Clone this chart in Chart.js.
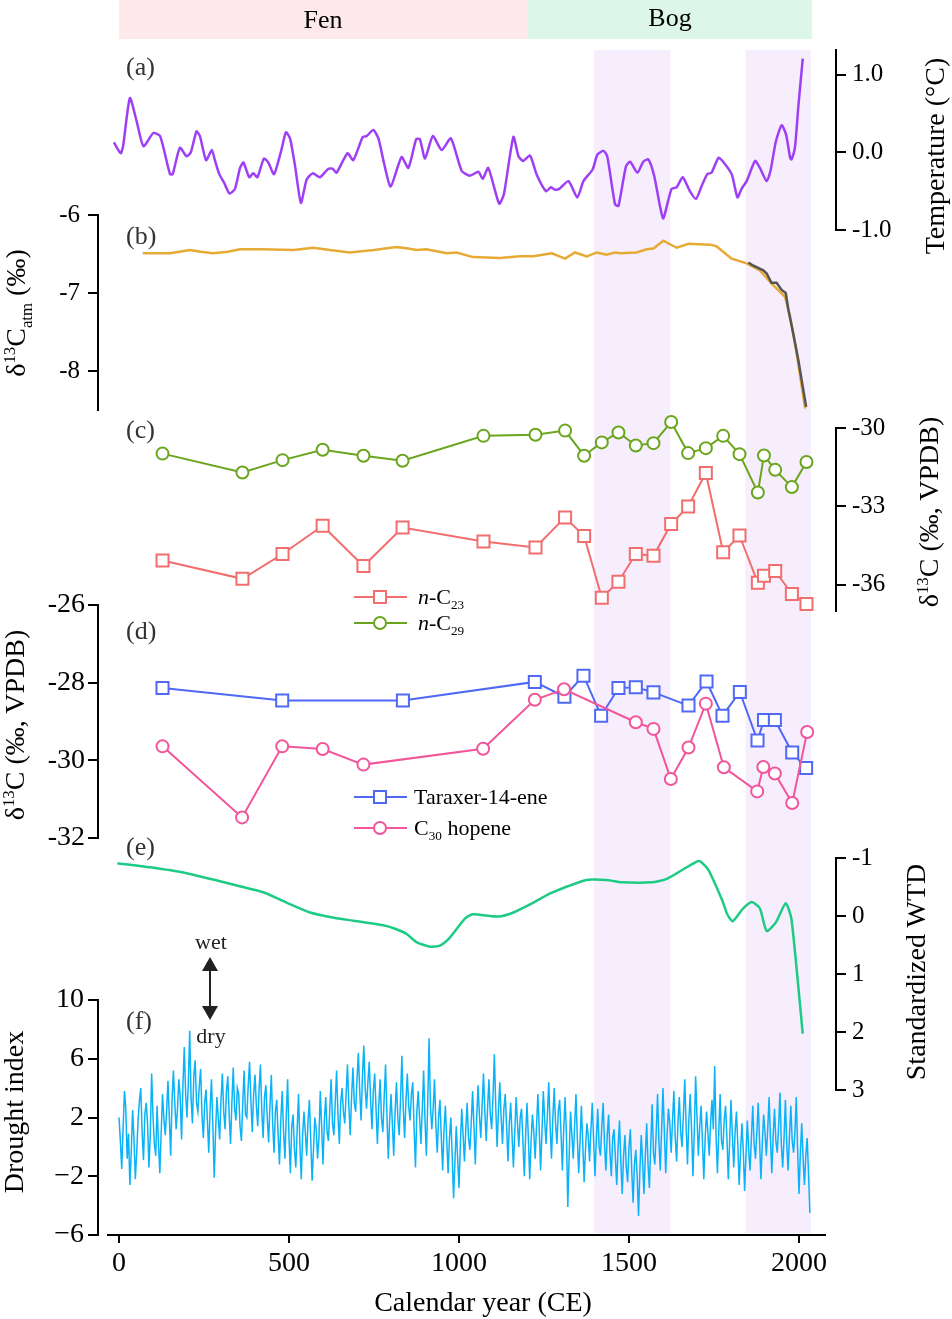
<!DOCTYPE html>
<html>
<head>
<meta charset="utf-8">
<script src="https://cdn.jsdelivr.net/npm/chart.js@4.4.1/dist/chart.umd.min.js"></script>
<style>
  body { margin: 0; background: #fff; }
  #fig { position: relative; width: 952px; height: 1319px; overflow: hidden;
         font-family: "Liberation Serif", "DejaVu Serif", serif; color: #000; }
  #fig canvas { position: absolute; left: 0; z-index: 0; }
  .lbl { position: absolute; z-index: 2; white-space: nowrap; line-height: 1; transform: translate(-50%, -50%); }
  .rot { position: absolute; z-index: 2; white-space: nowrap; line-height: 1; font-size: 28px;
         transform: translate(-50%, -50%) rotate(-90deg); }
  .pl { position: absolute; z-index: 2; left: 126px; font-size: 26px; color: #333; line-height: 1; transform: translateY(-50%); }
  .leg { position: absolute; z-index: 2; white-space: nowrap; line-height: 1; font-size: 22px; transform: translateY(-50%); }
  sub, sup { font-size: 60%; line-height: 0; }
  #overlay { position: absolute; left: 0; top: 0; z-index: 1; }
</style>
</head>
<body>
<div id="fig">
  <div class="lbl" style="left:323px;top:20px;font-size:26px;">Fen</div>
  <div class="lbl" style="left:670px;top:18px;font-size:26px;">Bog</div>

  <div class="pl" style="top:67px;">(a)</div>
  <div class="pl" style="top:236px;">(b)</div>
  <div class="pl" style="top:430px;">(c)</div>
  <div class="pl" style="top:631px;">(d)</div>
  <div class="pl" style="top:847px;">(e)</div>
  <div class="pl" style="top:1021px;">(f)</div>

  <div class="rot" style="left:935px;top:156px;">Temperature (°C)</div>
  <div class="rot" style="left:16px;top:313px;">δ<sup>13</sup>C<sub>atm</sub> (‰)</div>
  <div class="rot" style="left:929px;top:512px;">δ<sup>13</sup>C (‰, VPDB)</div>
  <div class="rot" style="left:15px;top:725px;">δ<sup>13</sup>C (‰, VPDB)</div>
  <div class="rot" style="left:916px;top:972px;">Standardized WTD</div>
  <div class="rot" style="left:14px;top:1112px;">Drought index</div>
  <div class="lbl" style="left:483px;top:1302px;font-size:28px;">Calendar year (CE)</div>

  <div class="leg" style="left:418px;top:597px;"><i>n</i>-C<sub>23</sub></div>
  <div class="leg" style="left:418px;top:623px;"><i>n</i>-C<sub>29</sub></div>
  <div class="leg" style="left:414px;top:797px;">Taraxer-14-ene</div>
  <div class="leg" style="left:414px;top:828px;">C<sub>30</sub> hopene</div>

  <div class="lbl" style="left:211px;top:942px;font-size:22px;color:#222;">wet</div>
  <div class="lbl" style="left:211px;top:1036px;font-size:22px;color:#222;">dry</div>
</div>

<script>
// ---- data ----
var zoneNames = ['Fen', 'Bog'];
var zoneStart = [0, 1203];
var zoneEnd = [1203, 2038];
var shadeStart = [1396, 1842];
var shadeEnd = [1622, 2035];

// (a) temperature anomaly
var tempYears = [-15, 5, 12, 32, 52, 72, 101, 121, 150, 158, 179, 199, 211, 228, 238, 256, 273, 282, 295, 309,
  325, 341, 356, 366, 383, 395, 407, 426, 439, 456, 478, 491, 503, 518, 535, 552, 570, 591, 616, 628,
  640, 672, 689, 717, 728, 748, 763, 779, 799, 831, 851, 874, 885, 900, 923, 949, 976, 1008, 1032, 1057,
  1070, 1086, 1118, 1132, 1160, 1175, 1189, 1209, 1228, 1256, 1270, 1282, 1295, 1322, 1348, 1366, 1393, 1407, 1425, 1436,
  1459, 1469, 1491, 1503, 1525, 1542, 1557, 1574, 1591, 1601, 1625, 1640, 1658, 1679, 1697, 1714, 1730, 1743, 1763, 1775,
  1802, 1819, 1831, 1846, 1871, 1885, 1905, 1916, 1932, 1949, 1962, 1974, 1978, 1988, 1998, 2011];
var tempValues = [0.13, -0.01, 0.08, 0.70, 0.40, 0.08, 0.25, 0.21, -0.28, -0.28, 0.06, -0.05, 0.0, 0.27, 0.21, -0.10, 0.03, -0.10, -0.28, -0.39,
  -0.53, -0.47, -0.20, -0.13, -0.32, -0.27, -0.32, -0.08, -0.13, -0.28, 0.04, 0.26, 0.18, -0.18, -0.65, -0.35, -0.27, -0.32, -0.21, -0.21,
  -0.26, -0.01, -0.10, 0.20, 0.21, 0.29, 0.18, -0.13, -0.44, -0.06, -0.20, 0.17, 0.17, -0.08, 0.21, 0.03, 0.18, -0.24, -0.30, -0.25,
  -0.34, -0.20, -0.66, -0.54, 0.20, -0.05, -0.11, -0.04, -0.28, -0.50, -0.45, -0.48, -0.47, -0.37, -0.58, -0.37, -0.22, -0.03, 0.02, -0.05,
  -0.67, -0.69, -0.18, -0.12, -0.26, -0.12, -0.09, -0.30, -0.69, -0.85, -0.47, -0.45, -0.32, -0.50, -0.60, -0.43, -0.28, -0.26, -0.07, -0.11,
  -0.28, -0.58, -0.47, -0.37, -0.11, -0.20, -0.37, -0.24, 0.14, 0.35, 0.23, -0.07, -0.09, 0.06, 0.59, 1.21];
var tempTicks = [-1, 0, 1];

// (b) atmospheric d13C
var atmYears = [70, 150, 209, 240, 277, 320, 356, 420, 513, 571, 620, 679, 750, 816, 850, 875, 904, 964, 993, 1041,
  1121, 1179, 1219, 1273, 1312, 1341, 1376, 1405, 1434, 1459, 1474, 1522, 1552, 1572, 1601, 1640, 1675, 1738, 1757, 1802,
  1846, 1885, 1924, 1959, 1974, 1993, 2018];
var atmValues = [-6.49, -6.49, -6.45, -6.47, -6.49, -6.47, -6.44, -6.44, -6.45, -6.42, -6.45, -6.48, -6.45, -6.41, -6.43, -6.45, -6.44, -6.49, -6.48, -6.54,
  -6.55, -6.53, -6.53, -6.49, -6.56, -6.48, -6.53, -6.48, -6.51, -6.48, -6.49, -6.48, -6.44, -6.43, -6.33, -6.42, -6.37, -6.38, -6.40, -6.56,
  -6.62, -6.71, -6.90, -7.05, -7.30, -7.77, -8.48];
var atmDirectYears = [1851, 1866, 1895, 1905, 1919, 1934, 1949, 1961, 1969, 1983, 1998, 2008, 2021];
var atmDirectValues = [-6.61, -6.65, -6.71, -6.75, -6.87, -6.87, -6.96, -7.00, -7.22, -7.52, -7.86, -8.12, -8.46];
var atmTicks = [-8, -7, -6];

// (c) n-alkanes
var alkYears = [128, 363, 481, 599, 719, 834, 1072, 1225, 1312, 1368, 1420, 1469, 1520, 1572, 1624, 1674, 1726, 1777, 1825, 1879,
  1897, 1930, 1979, 2022];
var c23Values = [-35.07, -35.77, -34.82, -33.74, -35.28, -33.81, -34.34, -34.57, -33.42, -34.13, -36.49, -35.88, -34.82, -34.89, -33.67, -33.00, -31.72, -34.75, -34.11, -35.92,
  -35.65, -35.47, -36.35, -36.73];
var c29Values = [-30.98, -31.70, -31.23, -30.83, -31.06, -31.25, -30.30, -30.26, -30.10, -31.06, -30.55, -30.17, -30.67, -30.58, -29.77, -30.96, -30.77, -30.30, -31.00, -32.47,
  -31.05, -31.60, -32.26, -31.30];
var alkTicks = [-36, -33, -30];

// (d) triterpenoids
var taraxYears = [128, 480, 835, 1223, 1310, 1366, 1418, 1469, 1520, 1572, 1675, 1728, 1775, 1826, 1878, 1897, 1929, 1980, 2021];
var taraxValues = [-28.14, -28.46, -28.46, -27.98, -28.36, -27.82, -28.85, -28.14, -28.12, -28.25, -28.59, -27.97, -28.85, -28.24, -29.49, -28.96, -28.96, -29.80, -30.20];
var hopYears = [128, 362, 480, 599, 719, 1071, 1223, 1309, 1520, 1572, 1623, 1675, 1726, 1779, 1877, 1895, 1929, 1980, 2024];
var hopValues = [-29.64, -31.47, -29.64, -29.71, -30.11, -29.70, -28.44, -28.17, -29.02, -29.19, -30.48, -29.67, -28.54, -30.18, -30.80, -30.17, -30.34, -31.10, -29.27];
var isoTicks = [-32, -30, -28, -26];

// (e) standardized water table depth
var wtdYears = [-5, 91, 189, 317, 424, 493, 562, 640, 689, 777, 812, 846, 875, 915, 944, 969, 1018, 1040, 1116, 1160,
  1219, 1268, 1361, 1390, 1434, 1479, 1567, 1611, 1670, 1706, 1733, 1775, 1789, 1805, 1834, 1861, 1885, 1905, 1932, 1961,
  1978, 2011];
var wtdValues = [-0.91, -0.84, -0.75, -0.57, -0.41, -0.23, -0.06, 0.04, 0.08, 0.16, 0.22, 0.31, 0.45, 0.53, 0.51, 0.40, 0.04, -0.03, 0.01, -0.06,
  -0.23, -0.39, -0.60, -0.63, -0.62, -0.58, -0.58, -0.64, -0.84, -0.95, -0.80, -0.26, -0.03, 0.09, -0.12, -0.24, -0.13, 0.26, 0.11, -0.22,
  0.06, 2.03];
var wtdTicks = [-1, 0, 1, 2, 3];

// (f) drought index, one value every 4 years from year 0 (one row = 40 years)
var droughtStart = 0;
var droughtStep = 4;
var droughtValues = [
  2.0, 0.4, -1.5, 1.2, 3.8, 2.6, -0.8, 0.9, -2.6, -0.4,
  2.5, 0.6, -2.2, -0.4, 1.8, 3.1, 4.0, 1.0, -0.9, 2.2,
  3.0, 1.6, -1.4, 0.8, 5.0, 2.1, 0.2, -0.6, 2.8, 0.3,
  -1.8, 0.9, 3.6, 1.9, 0.8, 2.4, 4.5, 2.0, -0.6, 3.2,
  5.2, 3.0, 1.2, 2.6, 4.6, 3.4, 0.5, 4.2, 6.8, 3.6,
  2.0, 4.4, 7.9, 3.3, 1.6, 4.8, 5.9, 3.0, 2.4, 4.1,
  5.3, 2.2, 0.6, 3.0, 3.9, 1.8, -0.4, 2.6, 4.6, 1.5,
  -2.1, 1.0, 3.4, 2.0, 0.5, 3.2, 5.0, 2.4, 1.2, 3.8,
  4.8, 2.2, 0.2, 3.0, 5.4, 2.6, 1.8, 4.0, 3.6, 1.4,
  0.4, 3.0, 5.2, 2.2, 2.0, 4.2, 5.8, 3.1, 1.0, 3.6,
  4.9, 2.8, 1.4, 3.9, 5.6, 2.4, 0.6, 3.4, 4.2, 2.0,
  0.3, 2.8, 4.9, 1.6, -0.4, 2.4, 3.2, 0.8, -1.2, 1.9,
  3.8, 1.0, -0.8, 2.2, 4.6, 0.6, -1.8, 1.4, 2.2, -0.2,
  -1.4, 1.2, 3.6, 0.2, -2.2, 0.8, 2.4, 1.0, -0.6, 1.8,
  3.2, 0.4, -2.3, -0.2, 2.0, 1.2, -0.8, 0.6, 3.8, 1.4,
  -1.2, 1.8, 3.4, 1.0, 0.4, 2.6, 4.6, 1.6, 0.8, 3.0,
  5.2, 2.2, 0.2, 3.0, 4.0, 2.4, 1.6, 3.6, 5.6, 2.8,
  0.8, 3.4, 5.4, 3.0, 2.4, 4.6, 6.4, 3.8, 1.8, 4.8,
  6.9, 4.0, 2.6, 4.4, 5.8, 3.2, 1.2, 3.8, 5.0, 2.6,
  0.2, 2.8, 4.6, 2.0, 1.0, 3.4, 5.6, 2.2, -0.8, 1.8,
  3.6, 1.6, -0.6, 2.4, 4.4, 2.0, 0.8, 3.2, 6.2, 2.6,
  0.6, 3.2, 5.0, 2.8, 1.8, 3.6, 4.4, 1.2, -1.4, 2.4,
  3.8, 2.0, 0.2, 2.6, 5.2, 1.8, -0.6, 3.0, 7.4, 2.8,
  1.2, 2.6, 4.6, 1.4, -0.4, 2.0, 3.2, 0.6, -1.6, 1.2,
  2.8, 0.4, -1.8, 0.6, 2.0, -0.6, -3.5, -1.0, 1.4, -0.8,
  -2.8, 0.2, 2.6, 0.8, -1.0, 1.2, 3.0, 0.6, -0.2, 1.6,
  3.8, 1.4, -1.2, 2.0, 4.2, 2.2, 0.6, 2.8, 5.0, 2.4,
  0.4, 2.6, 4.6, 2.2, 1.2, 3.4, 6.3, 2.8, 0.0, 2.4,
  4.4, 2.0, 0.2, 2.6, 3.6, 1.4, -1.0, 1.6, 3.0, 0.8,
  -1.4, 1.0, 3.4, 1.6, 0.0, 2.0, 2.6, 0.4, -2.0, 0.8,
  3.0, 0.6, -2.2, 0.4, 2.2, 1.0, -0.8, 1.4, 3.6, 1.2,
  -1.6, 1.0, 3.8, 1.8, 0.2, 2.2, 4.4, 1.4, -0.8, 2.0,
  4.0, 1.6, 0.2, 2.4, 3.2, 1.0, -1.6, 1.2, 3.4, 0.8,
  -4.1, -0.6, 2.4, 0.8, -0.8, 1.4, 3.6, 0.6, -1.8, 0.4,
  2.8, 0.2, -2.4, -0.2, 1.6, 0.8, -1.0, 1.2, 3.0, 0.4,
  -2.0, 0.6, 2.6, 0.0, -0.6, 1.4, 3.0, 0.2, -1.6, 0.8,
  2.2, -0.4, -2.0, 0.6, 1.2, -0.8, -2.6, 0.0, 1.8, -1.0,
  -3.2, -0.6, 0.8, -1.4, -2.4, 0.0, 1.2, -1.6, -3.8, -1.2,
  -0.2, -2.0, -4.7, -1.6, 0.8, -1.0, -3.2, -0.6, 1.6, -1.2,
  -2.8, 0.2, 2.9, -0.4, -1.2, 1.0, 3.6, 0.4, -1.6, 1.2,
  4.0, 1.0, -1.8, 0.8, 2.6, 1.6, -0.4, 1.8, 3.8, 0.6,
  -1.0, 1.6, 3.4, 1.0, 0.0, 2.2, 4.6, 1.4, -1.2, 1.8,
  3.6, 1.2, -2.0, 1.0, 4.8, 2.0, -0.6, 1.4, 2.8, 0.4,
  -2.2, 0.6, 2.4, 1.0, -0.6, 1.6, 3.2, 1.2, 5.5, 0.8,
  -1.8, 1.0, 3.6, 0.4, -0.2, 1.8, 2.8, 0.6, -2.2, 0.4,
  3.2, 0.8, -1.4, 1.0, 2.4, 0.2, -2.6, -0.4, 1.6, -0.2,
  -3.0, -0.6, 1.8, -0.2, -1.6, 0.6, 2.8, 0.2, -0.8, 1.0,
  3.0, 0.4, -2.2, 0.2, 2.2, 1.0, -0.6, 1.2, 3.4, 0.6,
  -1.8, 0.8, 2.6, 0.4, -0.4, 1.4, 3.7, 0.2, -1.4, 0.6,
  3.2, 0.2, -1.6, 0.8, 2.8, 0.4, -0.4, 1.0, 3.4, -0.2,
  -3.2, -0.4, 1.6, -0.8, -2.6, -0.6, 0.6, -1.8, -4.5];
var droughtTicks = [-6, -2, 2, 6, 10];
var yearTicks = [0, 500, 1000, 1500, 2000];

// ---- layout ----
var W = 952;
var SERIF = '"Liberation Serif", "DejaVu Serif", serif';
var PLOT_L = 98, PLOT_R = 836;          // where the panel y axes sit
var AXIS_L = 108, AXIS_R = 825;         // extent of the bottom year axis
var X0 = 119, PX_PER_YEAR = 0.34;       // year 0 sits at x=119
function yearAt(px) { return (px - X0) / PX_PER_YEAR; }

var fig = document.getElementById('fig');
function addCanvas(top, height) {
  var c = document.createElement('canvas');
  c.width = W; c.height = height;
  c.style.top = top + 'px';
  c.style.width = W + 'px'; c.style.height = height + 'px';
  fig.appendChild(c);
  return c.getContext('2d');
}
function pts(xs, ys) { return xs.map(function (x, i) { return { x: x, y: ys[i] }; }); }

var baseOpts = {
  responsive: false, animation: false, events: [],
  plugins: { legend: { display: false }, tooltip: { enabled: false } }
};

function bands(top, bottom, starts, ends, colors) {
  var ctx = addCanvas(top, bottom - top);
  new Chart(ctx, {
    type: 'line',
    data: { datasets: starts.map(function (s, i) {
      return { data: [{ x: s, y: 1 }, { x: ends[i], y: 1 }], fill: 'origin',
               backgroundColor: colors[i], borderWidth: 0, pointRadius: 0 };
    }) },
    options: Object.assign({}, baseOpts, {
      layout: { padding: { left: PLOT_L, right: W - PLOT_R, top: 0, bottom: 0 } },
      scales: {
        x: { type: 'linear', display: false, min: yearAt(PLOT_L), max: yearAt(PLOT_R) },
        y: { display: false, min: 0, max: 1 }
      }
    })
  });
}

function panel(o) {
  var pad = 26;
  var ctx = addCanvas(o.top - pad, o.bottom - o.top + 2 * pad);
  var left = o.side === 'left';
  new Chart(ctx, {
    type: 'line',
    data: { datasets: o.datasets },
    options: Object.assign({}, baseOpts, {
      layout: { padding: { top: pad, bottom: pad, left: left ? 0 : PLOT_L, right: left ? W - PLOT_R : 0 } },
      scales: {
        x: { type: 'linear', display: false, min: yearAt(PLOT_L), max: yearAt(PLOT_R) },
        y: {
          position: o.side, min: o.min, max: o.max, reverse: !!o.reverse,
          border: { display: true, color: '#000', width: 2 },
          grid: { drawOnChartArea: false, color: '#000', lineWidth: 2, tickLength: 10 },
          ticks: { font: { family: SERIF, size: o.fontSize || 25 }, color: '#000',
                   padding: o.tickPad || 6, autoSkip: false, callback: o.fmt },
          afterBuildTicks: function (s) { s.ticks = o.ticks.map(function (v) { return { value: v }; }); },
          afterFit: function (s) { s.width = left ? PLOT_L : W - PLOT_R; }
        }
      }
    })
  });
}

function lineSet(xs, ys, color, width, tension) {
  return { data: pts(xs, ys), borderColor: color, borderWidth: width, pointRadius: 0,
           tension: tension || 0, fill: false, clip: false };
}
function markerSet(xs, ys, color, style) {
  return { data: pts(xs, ys), borderColor: color, borderWidth: 2, fill: false, clip: false,
           pointStyle: style, pointRadius: style === 'rect' ? 8.5 : 6,
           pointBackgroundColor: '#fff', pointBorderColor: color, pointBorderWidth: 2 };
}

// shaded intervals and the Fen/Bog strip
bands(50, 1233, shadeStart, shadeEnd, ['#f6eefd', '#f6eefd']);
bands(0, 39, zoneStart, zoneEnd, ['#fde9eb', '#dcf6ea']);

// (a)
panel({ top: 50, bottom: 230, side: 'right', min: -1, max: 1.32, ticks: tempTicks,
  fmt: function (v) { return v.toFixed(1); },
  datasets: [lineSet(tempYears, tempValues, '#9f3ff5', 2.5, 0.2)] });

// (b)
panel({ top: 215, bottom: 410, side: 'left', min: -8.5, max: -6, ticks: atmTicks, tickPad: 8,
  datasets: [lineSet(atmDirectYears, atmDirectValues, '#555555', 2.5),
             lineSet(atmYears, atmValues, '#e6aa35', 2.5)] });

// (c)
panel({ top: 428, bottom: 611, side: 'right', min: -37, max: -30, ticks: alkTicks,
  datasets: [markerSet(alkYears, c29Values, '#6aa51e', 'circle'),
             markerSet(alkYears, c23Values, '#f26d6d', 'rect')] });

// (d)
panel({ top: 605, bottom: 838, side: 'left', min: -32, max: -26, ticks: isoTicks, fontSize: 28, tickPad: 3,
  datasets: [markerSet(hopYears, hopValues, '#f2559a', 'circle'),
             markerSet(taraxYears, taraxValues, '#5069f5', 'rect')] });

// (e)
panel({ top: 858, bottom: 1090, side: 'right', min: -1, max: 3, reverse: true, ticks: wtdTicks,
  datasets: [lineSet(wtdYears, wtdValues, '#1ecb84', 2.5, 0.2)] });

// (f)
var droughtYears = droughtValues.map(function (v, i) { return droughtStart + i * droughtStep; });
panel({ top: 1000, bottom: 1235, side: 'left', min: -6, max: 10, ticks: droughtTicks, fontSize: 28, tickPad: 4,
  fmt: function (v) { return v < 0 ? '\u2212' + Math.abs(v) : String(v); },
  datasets: [lineSet(droughtYears, droughtValues, '#0ab2f7', 1.5)] });

// bottom year axis
(function () {
  var ctx = addCanvas(1200, 119);
  new Chart(ctx, {
    type: 'line',
    data: { datasets: [] },
    options: Object.assign({}, baseOpts, {
      layout: { padding: { left: AXIS_L, right: W - AXIS_R, top: 0, bottom: 0 } },
      scales: {
        x: { type: 'linear', position: 'bottom', min: yearAt(AXIS_L), max: yearAt(AXIS_R),
             border: { display: true, color: '#000', width: 2 },
             grid: { drawOnChartArea: false, color: '#000', lineWidth: 2, tickLength: 8 },
             ticks: { font: { family: SERIF, size: 28 }, color: '#000', padding: 4, autoSkip: false, maxRotation: 0,
                      callback: function (v) { return String(v); } },
             afterBuildTicks: function (s) { s.ticks = yearTicks.map(function (v) { return { value: v }; }); },
             afterFit: function (s) { s.height = 1319 - 1235; } },
        y: { display: false, min: 0, max: 1 }
      }
    })
  });
})();

// legend keys and the wet/dry arrow (annotation only)
var svgNS = 'http://www.w3.org/2000/svg';
var svg = document.createElementNS(svgNS, 'svg');
svg.setAttribute('id', 'overlay');
svg.setAttribute('width', W); svg.setAttribute('height', 1319);
svg.innerHTML =
  '<g stroke-width="2" fill="#fff">' +
  '<line x1="354" y1="597" x2="407" y2="597" stroke="#f26d6d"/><rect x="374" y="591" width="12" height="12" stroke="#f26d6d"/>' +
  '<line x1="354" y1="623" x2="407" y2="623" stroke="#6aa51e"/><circle cx="380" cy="623" r="6" stroke="#6aa51e"/>' +
  '<line x1="354" y1="797" x2="407" y2="797" stroke="#5069f5"/><rect x="374" y="791" width="12" height="12" stroke="#5069f5"/>' +
  '<line x1="354" y1="828" x2="407" y2="828" stroke="#f2559a"/><circle cx="380" cy="828" r="6" stroke="#f2559a"/>' +
  '</g>' +
  '<line x1="210" y1="968" x2="210" y2="1009" stroke="#222" stroke-width="2"/>' +
  '<polygon points="210,957 202,971 218,971" fill="#222"/>' +
  '<polygon points="210,1020 202,1006 218,1006" fill="#222"/>';
fig.appendChild(svg);
</script>
</body>
</html>
